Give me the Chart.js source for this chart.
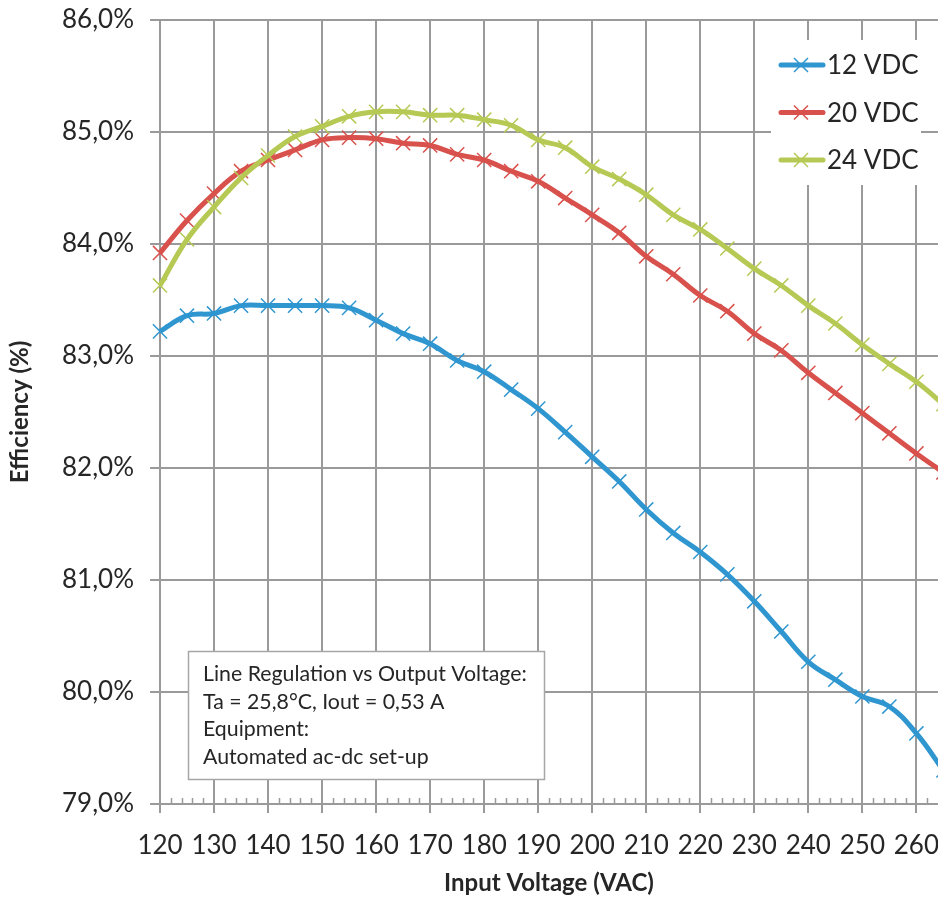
<!DOCTYPE html>
<html>
<head>
<meta charset="utf-8">
<script src="https://cdn.jsdelivr.net/npm/chart.js@4/dist/chart.umd.min.js"></script>
<style>
  html, body { margin: 0; padding: 0; background: #fff; }
  #wrap { position: relative; width: 938px; height: 901px; }
</style>
</head>
<body>
<div id="wrap"><canvas id="mycanvas" width="938" height="901"></canvas></div>
<script>
// input voltage (VAC)
var voltage = [120, 125, 130, 135, 140, 145, 150, 155, 160, 165, 170, 175, 180, 185, 190,
               195, 200, 205, 210, 215, 220, 225, 230, 235, 240, 245, 250, 255, 260, 265];

// efficiency (%) per output voltage
var eff12 = [83.22, 83.36, 83.38, 83.45, 83.45, 83.45, 83.45, 83.43, 83.32, 83.20, 83.11, 82.96, 82.86, 82.70, 82.53,
             82.32, 82.10, 81.88, 81.63, 81.42, 81.25, 81.05, 80.81, 80.54, 80.27, 80.11, 79.96, 79.87, 79.63, 79.30];
var eff20 = [83.92, 84.21, 84.45, 84.65, 84.75, 84.84, 84.93, 84.95, 84.94, 84.90, 84.88, 84.80, 84.75, 84.65, 84.56,
             84.41, 84.26, 84.10, 83.89, 83.73, 83.54, 83.40, 83.20, 83.05, 82.85, 82.67, 82.49, 82.31, 82.13, 81.96];
var eff24 = [83.63, 84.04, 84.33, 84.59, 84.79, 84.96, 85.05, 85.14, 85.18, 85.18, 85.15, 85.15, 85.11, 85.06, 84.93,
             84.86, 84.69, 84.58, 84.44, 84.26, 84.13, 83.96, 83.78, 83.63, 83.45, 83.29, 83.10, 82.93, 82.77, 82.57];

var seriesNames = ["12 VDC", "20 VDC", "24 VDC"];
var xTicks = [120, 130, 140, 150, 160, 170, 180, 190, 200, 210, 220, 230, 240, 250, 260];
var noteLines = ["Line Regulation vs Output Voltage:", "Ta = 25,8\u00b0C, Iout = 0,53 A", "Equipment:", "Automated ac-dc set-up"];

var colors = ["#2f96d0", "#d9514c", "#b6c954"];
var grid = "#9a9a9a";
var txt = "#262626";
var font = "Lato, 'Open Sans', sans-serif";

function pts(ys) {
  var out = [];
  for (var i in voltage) out.push({x: voltage[i], y: ys[i]});
  return out;
}

function makeSet(i, ys) {
  return {
    label: seriesNames[i],
    data: pts(ys),
    borderColor: colors[i],
    backgroundColor: colors[i],
    borderWidth: 5,
    tension: 0.4,
    fill: false,
    clip: { left: 10, top: 10, right: 0, bottom: 10 },
    pointStyle: "crossRot",
    pointRadius: 10,
    pointBorderWidth: 1.5,
    pointBorderColor: colors[i],
    order: 2 - i
  };
}

// minor x ticks, legend box and the note box
var extras = {
  id: "extras",
  beforeDatasetsDraw: function(chart) {
    var ctx = chart.ctx, x = chart.scales.x, area = chart.chartArea;
    ctx.save();
    ctx.strokeStyle = grid;
    ctx.lineWidth = 1.5;
    for (var v = 122; v < 264; v += 2) {
      if (v % 10 === 0) continue;
      var px = Math.round(x.getPixelForValue(v)) + 0.5;
      ctx.beginPath();
      ctx.moveTo(px, area.bottom);
      ctx.lineTo(px, area.bottom - 6);
      ctx.stroke();
    }

    // note box
    ctx.fillStyle = "#fff";
    ctx.fillRect(188, 651, 356, 128);
    ctx.strokeStyle = "#a6a6a6";
    ctx.lineWidth = 1.5;
    ctx.strokeRect(188.5, 651.5, 356, 128);
    ctx.fillStyle = txt;
    ctx.font = "21.3px " + font;
    ctx.textBaseline = "alphabetic";
    ctx.textAlign = "left";
    for (var j = 0; j < noteLines.length; j++) {
      ctx.fillText(noteLines[j], 203, 681 + j * 27.7);
    }

    // legend
    ctx.fillStyle = "#fff";
    ctx.fillRect(771, 40, 150, 145);
    ctx.font = "26px " + font;
    ctx.textBaseline = "middle";
    for (var k = 0; k < seriesNames.length; k++) {
      var ly = 65 + k * 47.5;
      ctx.strokeStyle = colors[k];
      ctx.lineWidth = 5;
      ctx.lineCap = "round";
      ctx.beginPath();
      ctx.moveTo(781, ly);
      ctx.lineTo(823, ly);
      ctx.stroke();
      ctx.lineWidth = 1.5;
      ctx.lineCap = "butt";
      ctx.beginPath();
      ctx.moveTo(794, ly - 7); ctx.lineTo(808, ly + 7);
      ctx.moveTo(794, ly + 7); ctx.lineTo(808, ly - 7);
      ctx.stroke();
      ctx.fillStyle = txt;
      ctx.fillText(seriesNames[k], 827, ly + 1);
    }
    ctx.restore();
  }
};

var ctx = document.getElementById("mycanvas");

var LineGraph = new Chart(ctx, {
  type: "line",
  data: {
    datasets: [makeSet(0, eff12), makeSet(1, eff20), makeSet(2, eff24)]
  },
  options: {
    responsive: false,
    animation: false,
    layout: { autoPadding: false, padding: { top: 20, right: 0, left: 0, bottom: 0 } },
    plugins: {
      legend: { display: false },
      tooltip: { enabled: false }
    },
    scales: {
      x: {
        type: "linear",
        min: 120,
        max: 264,
        afterBuildTicks: function(s) { s.ticks = xTicks.map(function(v) { return {value: v}; }); },
        afterFit: function(s) { s.height = 97; s.paddingLeft = 0; s.paddingRight = 0; },
        grid: { color: grid, lineWidth: 2, tickLength: 9, tickColor: grid },
        border: { color: grid, width: 2 },
        ticks: { color: txt, font: { family: font, size: 26 }, padding: 17, maxRotation: 0, autoSkip: false },
        title: { display: true, text: "Input Voltage (VAC)", color: txt,
                 font: { family: font, size: 24, weight: "bold" }, padding: { top: 0, bottom: 3 } }
      },
      y: {
        min: 79,
        max: 86,
        afterFit: function(s) { s.width = 160; s.paddingTop = 0; s.paddingBottom = 0; },
        grid: { color: grid, lineWidth: 2, tickLength: 10, tickColor: grid },
        border: { color: grid, width: 2 },
        ticks: {
          stepSize: 1,
          color: txt,
          font: { family: font, size: 26 },
          padding: 16,
          callback: function(v) { return v.toFixed(1).replace(".", ",") + "%"; }
        },
        title: { display: true, text: "Efficiency (%)", color: txt,
                 font: { family: font, size: 24, weight: "bold" }, padding: { top: 6, bottom: 0 } }
      }
    }
  },
  plugins: [extras]
});
</script>
</body>
</html>
